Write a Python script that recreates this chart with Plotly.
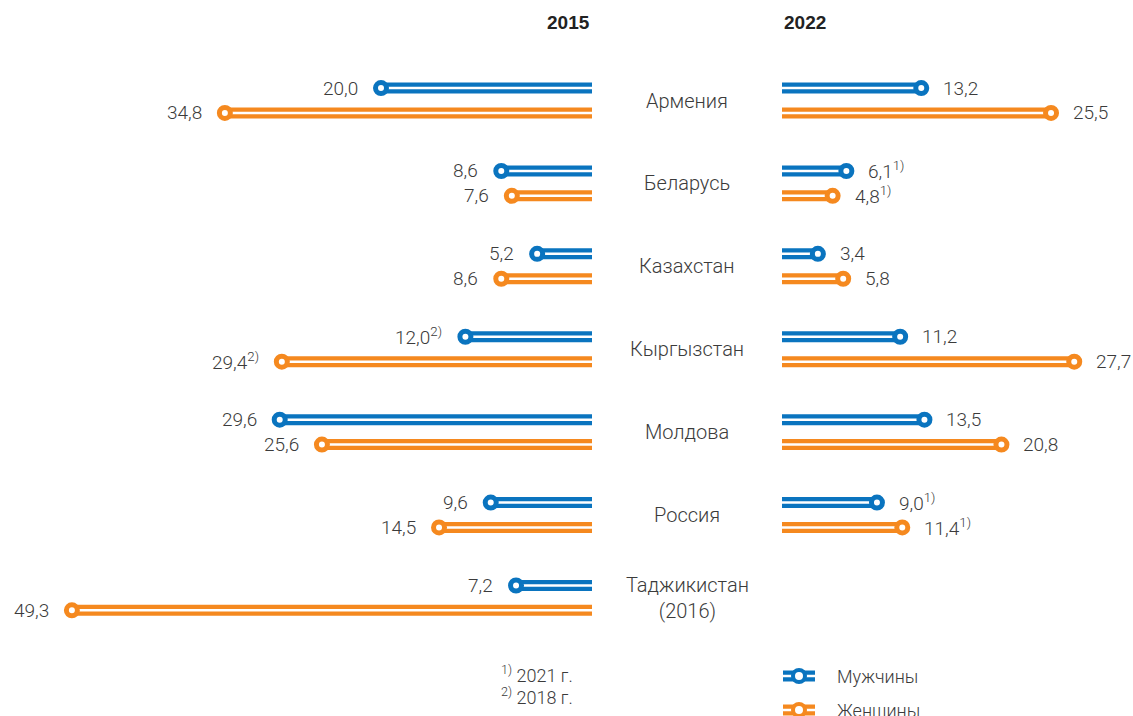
import plotly.graph_objects as go

# Countries (row order, top to bottom)
countries = ["Армения", "Беларусь", "Казахстан", "Кыргызстан", "Молдова", "Россия", "Таджикистан<br>(2016)"]

# 2015 values, %
men_2015 = [20.0, 8.6, 5.2, 12.0, 29.6, 9.6, 7.2]
women_2015 = [34.8, 7.6, 8.6, 29.4, 25.6, 14.5, 49.3]
notes_men_2015 = ["", "", "", "2)", "", "", ""]
notes_women_2015 = ["", "", "", "2)", "", "", ""]

# 2022 values, %
men_2022 = [13.2, 6.1, 3.4, 11.2, 13.5, 9.0, None]
women_2022 = [25.5, 4.8, 5.8, 27.7, 20.8, 11.4, None]
notes_men_2022 = ["", "1)", "", "", "", "1)", ""]
notes_women_2022 = ["", "1)", "", "", "", "1)", ""]

footnotes = ["<sup>1)</sup> 2021 г.", "<sup>2)</sup> 2018 г."]
series_names = ["Мужчины", "Женщины"]

BLUE = "#0a74bf"
ORANGE = "#f5891f"
TEXT = "#3b3b3b"
FONT = "Roboto"

W, H = 1133, 716
PX_PER_UNIT = 10.55
LEFT_END = 592      # pixel where 2015 bars start (right edge of left panel)
RIGHT_START = 782   # pixel where 2022 bars start
OFFSET = 0.15       # vertical offset of each series within a row

fig = go.Figure()


def add_series(vals, color, dy, xa):
    xs, ys, mx, my = [], [], [], []
    for i, v in enumerate(vals):
        if v is None:
            continue
        xs += [0, v, None]
        ys += [i + dy, i + dy, None]
        mx.append(v)
        my.append(i + dy)
    # thick coloured band
    fig.add_trace(go.Scatter(x=xs, y=ys, mode="lines", xaxis=xa, yaxis="y",
                             line=dict(color=color, width=11), hoverinfo="skip",
                             showlegend=False))
    # thin white stripe inside the band
    fig.add_trace(go.Scatter(x=xs, y=ys, mode="lines", xaxis=xa, yaxis="y",
                             line=dict(color="white", width=2.5), hoverinfo="skip",
                             showlegend=False))
    # ring marker at the value
    fig.add_trace(go.Scatter(x=mx, y=my, mode="markers", xaxis=xa, yaxis="y",
                             marker=dict(symbol="circle", size=11, color="white",
                                         line=dict(color=color, width=5)),
                             showlegend=False))


add_series(men_2015, BLUE, -OFFSET, "x")
add_series(women_2015, ORANGE, OFFSET, "x")
add_series(men_2022, BLUE, -OFFSET, "x2")
add_series(women_2022, ORANGE, OFFSET, "x2")


def fmt(v):
    return f"{v:.1f}".replace(".", ",")


annotations = []


def add_labels(vals, notes, dy, xa, side):
    for i, (v, n) in enumerate(zip(vals, notes)):
        if v is None:
            continue
        txt = fmt(v) + (f"<sup>{n}</sup>" if n else "")
        annotations.append(dict(
            x=v, y=i + dy, xref=xa, yref="y", text=txt, showarrow=False,
            xanchor="right" if side == "left" else "left", yanchor="middle",
            xshift=-21 if side == "left" else 20,
            font=dict(family=FONT, size=19, color=TEXT, weight=300)))


add_labels(men_2015, notes_men_2015, -OFFSET, "x", "left")
add_labels(women_2015, notes_women_2015, OFFSET, "x", "left")
add_labels(men_2022, notes_men_2022, -OFFSET, "x2", "right")
add_labels(women_2022, notes_women_2022, OFFSET, "x2", "right")

# country names in the centre column
for i, c in enumerate(countries):
    annotations.append(dict(
        x=(LEFT_END + RIGHT_START) / 2 / W, y=i, xref="paper", yref="y", text=c,
        showarrow=False, xanchor="center", yanchor="middle",
        font=dict(family=FONT, size=20, color=TEXT, weight=300)))

# year headers
HEAD_FONT = dict(family="Liberation Sans", size=19, color="#222222")
annotations.append(dict(x=LEFT_END / W, y=1 - 23 / H, xref="paper", yref="paper",
                        text="<b>2015</b>", showarrow=False, xanchor="right", yanchor="middle",
                        font=HEAD_FONT))
annotations.append(dict(x=RIGHT_START / W, y=1 - 23 / H, xref="paper", yref="paper",
                        text="<b>2022</b>", showarrow=False, xanchor="left", yanchor="middle",
                        font=HEAD_FONT))

# footnotes
for k, f in enumerate(footnotes):
    annotations.append(dict(x=499 / W, y=1 - (674 + 22 * k) / H, xref="paper", yref="paper",
                            text=f, showarrow=False, xanchor="left", yanchor="middle",
                            font=dict(family=FONT, size=18, color=TEXT, weight=300)))

# legend
shapes = []
for k, (name, col) in enumerate(zip(series_names, [BLUE, ORANGE])):
    py = 676 + 34 * k
    yp = 1 - py / H
    shapes.append(dict(type="line", xref="paper", yref="paper", x0=783 / W, x1=815 / W,
                       y0=yp, y1=yp, line=dict(color=col, width=11)))
    shapes.append(dict(type="line", xref="paper", yref="paper", x0=783 / W, x1=815 / W,
                       y0=yp, y1=yp, line=dict(color="white", width=2.5)))
    shapes.append(dict(type="circle", xref="paper", yref="paper",
                       xsizemode="pixel", ysizemode="pixel",
                       xanchor=799 / W, yanchor=yp, x0=-6, x1=6, y0=-6, y1=6,
                       fillcolor="white", line=dict(color=col, width=4)))
    annotations.append(dict(x=835 / W, y=yp, xref="paper", yref="paper", text=name,
                            showarrow=False, xanchor="left", yanchor="middle",
                            font=dict(family=FONT, size=18, color=TEXT, weight=300)))

row_px = 82.9
top_px = 100.5
y_min = -top_px / row_px
y_max = (H - top_px) / row_px

fig.update_layout(
    width=W, height=H, autosize=False,
    margin=dict(l=0, r=0, t=0, b=0),
    plot_bgcolor="white", paper_bgcolor="white",
    showlegend=False,
    xaxis=dict(domain=[0, LEFT_END / W], range=[LEFT_END / PX_PER_UNIT, 0],
               visible=False, fixedrange=True),
    xaxis2=dict(domain=[RIGHT_START / W, 1], range=[0, (W - RIGHT_START) / PX_PER_UNIT],
                anchor="y", visible=False, fixedrange=True),
    yaxis=dict(range=[y_max, y_min], visible=False, fixedrange=True),
    annotations=annotations,
    shapes=shapes,
)

fig.write_html("out.html")
